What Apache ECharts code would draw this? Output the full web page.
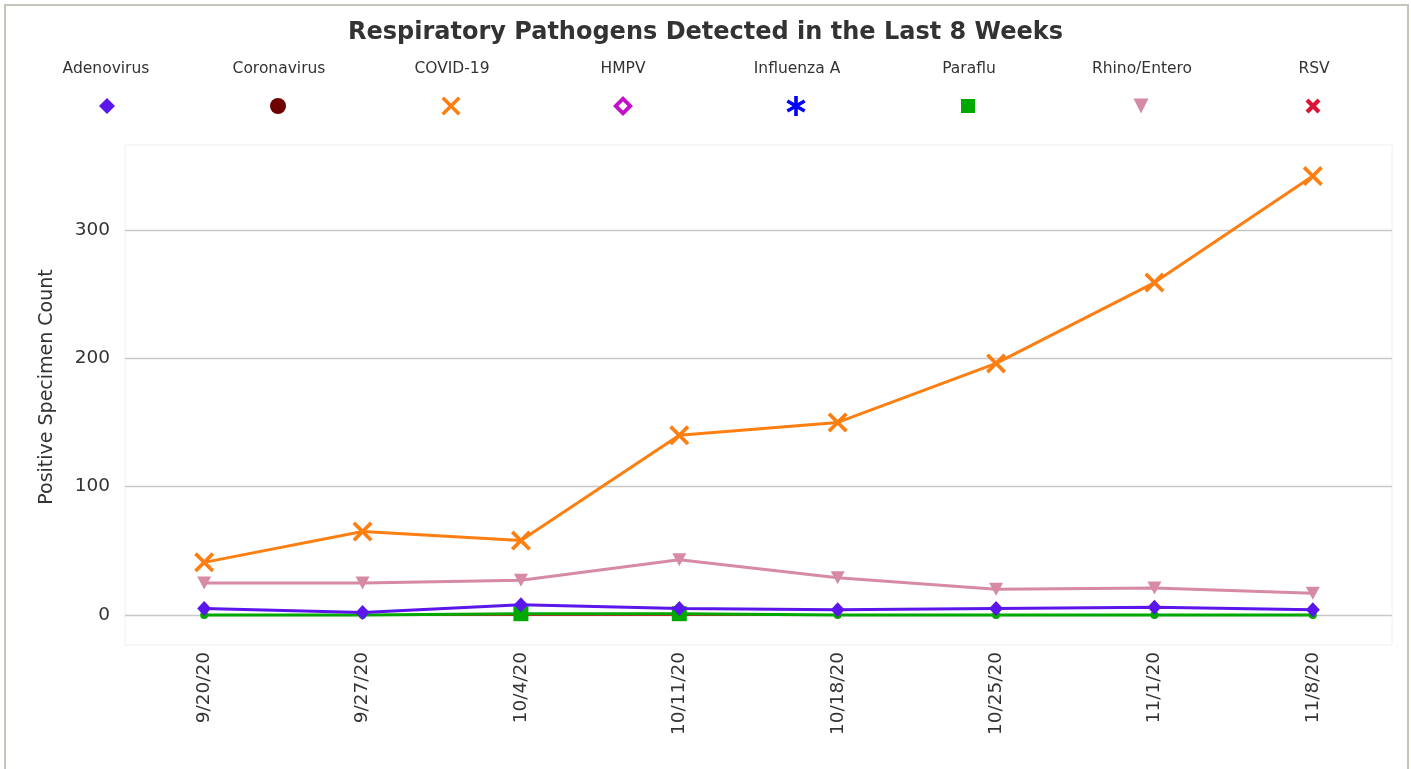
<!DOCTYPE html>
<html>
<head>
<meta charset="utf-8">
<script src="https://cdn.jsdelivr.net/npm/echarts@6/dist/echarts.min.js"></script>
<style>
html,body{margin:0;padding:0;background:#fff;}
#chart{position:absolute;left:0;top:0;width:1411px;height:769px;}
#frame{position:absolute;left:4px;top:4px;width:1401px;height:800px;border:2px solid #c6c3b8;pointer-events:none;}
</style>
</head>
<body>
<div id="chart"></div>
<div id="frame"></div>
<script>
const categories = ['9/20/20','9/27/20','10/4/20','10/11/20','10/18/20','10/25/20','11/1/20','11/8/20'];
const seriesNames = ['Adenovirus','Coronavirus','COVID-19','HMPV','Influenza A','Paraflu','Rhino/Entero','RSV'];
const adenovirus = [5, 2, 8, 5, 4, 5, 6, 4];
const coronavirus = [0, 0, 0, 0, 0, 0, 0, 0];
const covid19 = [41, 65, 58, 140, 150, 196, 259, 342];
const hmpv = [0, 0, 0, 0, 0, 0, 0, 0];
const influenzaA = [0, 0, 0, 0, 0, 0, 0, 0];
const paraflu = [0, 0, 1, 1, 0, 0, 0, 0];
const rhinoEntero = [25, 25, 27, 43, 29, 20, 21, 17];
const rsv = [0, 0, 0, 0, 0, 0, 0, 0];
const yTicks = [0, 100, 200, 300];

const colors = {
  'Adenovirus':'#5b16ec', 'Coronavirus':'#6e0000', 'COVID-19':'#fd7f12', 'HMPV':'#c40fc8',
  'Influenza A':'#0000ff', 'Paraflu':'#00a800', 'Rhino/Entero':'#d68aa3', 'RSV':'#dc1438'
};
const X_THIN = 'path://M0,2.6 L2.6,0 L10,7.4 L17.4,0 L20,2.6 L12.6,10 L20,17.4 L17.4,20 L10,12.6 L2.6,20 L0,17.4 L7.4,10 Z';
const X_BOLD = 'path://M0,4 L4,0 L10,6 L16,0 L20,4 L14,10 L20,16 L16,20 L10,14 L4,20 L0,16 L6,10 Z';
const HOLLOW_DIAMOND = 'path://M10,0 L20,10 L10,20 L0,10 Z M10,5.4 L5.4,10 L10,14.6 L14.6,10 Z';
const ASTERISK = 'path://M8.2,0 L11.8,0 L11.8,20 L8.2,20 Z M19.56,13.44 L17.76,16.56 L0.44,6.56 L2.24,3.44 Z M17.76,3.44 L19.56,6.56 L2.24,16.56 L0.44,13.44 Z';
const TRI_DOWN = 'path://M0,0 L20,0 L10,20 Z';
const icons = {
  'Adenovirus':'diamond', 'Coronavirus':'circle', 'COVID-19':X_THIN, 'HMPV':HOLLOW_DIAMOND,
  'Influenza A':ASTERISK, 'Paraflu':'rect', 'Rhino/Entero':TRI_DOWN, 'RSV':X_BOLD
};
const iconSizes = {
  'Adenovirus':16, 'Coronavirus':16, 'COVID-19':19, 'HMPV':20,
  'Influenza A':20, 'Paraflu':14, 'Rhino/Entero':15, 'RSV':15
};
const legendIconCenters = [107, 278, 451, 623, 796, 968, 1141, 1313];
const legendTextCenters = [106, 279, 452, 623, 797, 969, 1142, 1314];

const FONT = '"DejaVu Sans", Verdana, sans-serif';

const legends = [];
seriesNames.forEach((n, i) => {
  const s = iconSizes[n];
  legends.push({
    data: [n], icon: icons[n], itemWidth: s, itemHeight: s, padding: 0,
    left: legendIconCenters[i] - s / 2, top: 106 - s / 2,
    selectedMode: false, formatter: () => '', textStyle: { fontSize: 1 }
  });
});

const graphics = seriesNames.map((n, i) => ({
  type: 'text', x: legendTextCenters[i], y: 69, silent: true,
  style: { text: n, align: 'center', verticalAlign: 'middle', fontSize: 15.5, fontFamily: FONT, fill: '#333' }
}));

function zeroSeries(name, data) {
  return { name, type: 'line', data, z: 1, showSymbol: false, symbol: icons[name],
    itemStyle: { color: colors[name] }, lineStyle: { width: 2, color: colors[name] } };
}

const option = {
  animation: false,
  textStyle: { fontFamily: FONT },
  title: {
    text: 'Respiratory Pathogens Detected in the Last 8 Weeks',
    left: 'center', top: 16,
    textStyle: { fontSize: 24, fontWeight: 'bold', color: '#333', fontFamily: FONT }
  },
  legend: legends,
  graphic: graphics,
  grid: { left: 125, right: 19, top: 145, bottom: 124, show: true, borderColor: '#f0f0f0', borderWidth: 1 },
  xAxis: {
    type: 'category', data: categories, boundaryGap: true,
    axisLine: { show: false }, axisTick: { show: false },
    axisLabel: { rotate: 90, margin: 7, fontSize: 18.5, color: '#333', fontFamily: FONT }
  },
  yAxis: {
    type: 'value', min: -23.4, max: 366.2,
    name: 'Positive Specimen Count', nameLocation: 'middle', nameGap: 68,
    nameTextStyle: { fontSize: 19, color: '#333', fontFamily: FONT, padding: [0, 0, 0, 16] },
    axisLine: { show: false },
    axisTick: { show: false, customValues: yTicks },
    axisLabel: { customValues: yTicks, margin: 15, fontSize: 18.5, color: '#333', fontFamily: FONT },
    splitLine: { show: true, lineStyle: { color: '#c8c8c8', width: 1.3 } }
  },
  series: [
    zeroSeries('Coronavirus', coronavirus),
    zeroSeries('HMPV', hmpv),
    zeroSeries('Influenza A', influenzaA),
    zeroSeries('RSV', rsv),
    { name: 'Paraflu', type: 'line', data: paraflu, z: 3,
      symbol: (v) => v > 0 ? 'rect' : 'circle',
      symbolSize: (v) => v > 0 ? 15 : 8,
      itemStyle: { color: colors['Paraflu'] }, lineStyle: { width: 3, color: colors['Paraflu'] } },
    { name: 'Adenovirus', type: 'line', data: adenovirus, z: 4, symbol: 'diamond', symbolSize: [14, 15],
      itemStyle: { color: colors['Adenovirus'] }, lineStyle: { width: 3, color: colors['Adenovirus'] } },
    { name: 'Rhino/Entero', type: 'line', data: rhinoEntero, z: 4, symbol: TRI_DOWN, symbolSize: [14, 13],
      itemStyle: { color: colors['Rhino/Entero'] }, lineStyle: { width: 3, color: colors['Rhino/Entero'] } },
    { name: 'COVID-19', type: 'line', data: covid19, z: 5, symbol: X_THIN, symbolSize: [20, 20],
      itemStyle: { color: colors['COVID-19'] }, lineStyle: { width: 3, color: colors['COVID-19'] } }
  ]
};

const chart = echarts.init(document.getElementById('chart'), null, { renderer: 'canvas' });
chart.setOption(option);
</script>
</body>
</html>
